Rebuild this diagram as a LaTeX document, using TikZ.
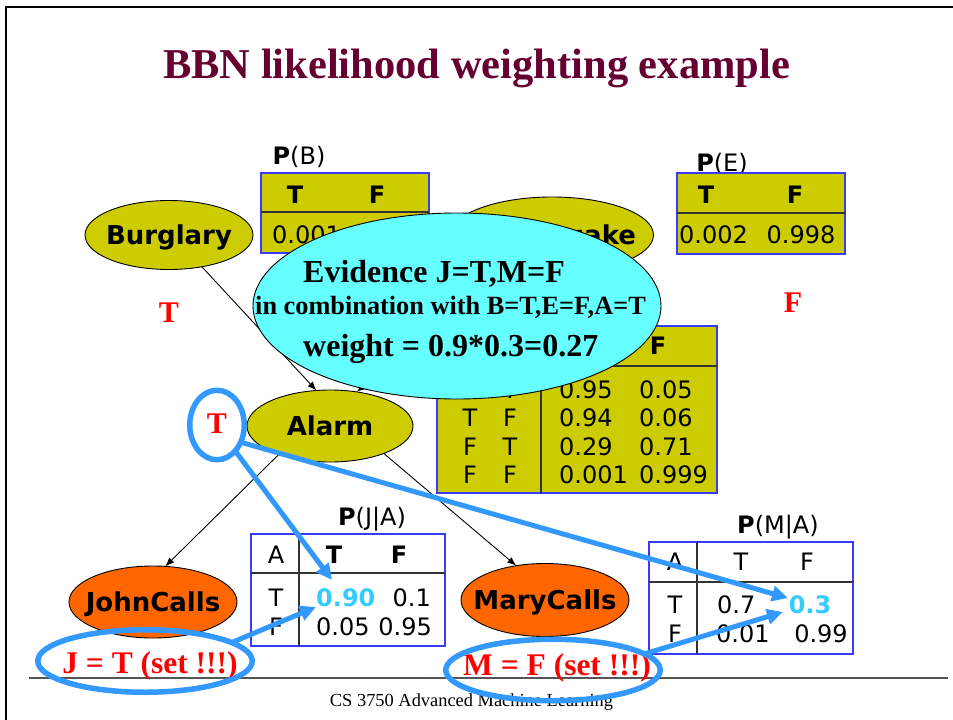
\documentclass[tikz,border=0pt]{standalone}
\usepackage{fontspec}
\setmainfont{Liberation Serif}
\setsansfont{DejaVu Sans}
\usetikzlibrary{shapes.geometric,arrows.meta}

\definecolor{cptfill}{HTML}{CCCC00}
\definecolor{callfill}{HTML}{FF6600}
\definecolor{evfill}{HTML}{66FFFF}
\definecolor{ringblue}{HTML}{3399FF}
\definecolor{hicyan}{HTML}{33CCFF}
\definecolor{tableblue}{HTML}{3A3AFF}
\definecolor{titlecol}{HTML}{660033}
\definecolor{rulegray}{HTML}{333333}
\definecolor{footgray}{HTML}{555555}
\definecolor{evred}{HTML}{FF0000}

\tikzset{
  bayes/.style={ellipse, draw=black, line width=0.9pt, inner sep=0pt, outer sep=0pt,
    text height=19pt, text depth=0pt,
    font=\sffamily\bfseries\fontsize{26}{30}\selectfont},
  tabframe/.style={draw=tableblue, line width=1.4pt},
  tabrule/.style={draw=rulegray, line width=1.1pt},
  cell/.style={inner sep=0pt, text height=17.5pt, text depth=0pt,
    font=\sffamily\fontsize{24}{28}\selectfont},
  cellb/.style={cell, font=\sffamily\bfseries\fontsize{24}{28}\selectfont},
  hival/.style={cellb, text=hicyan},
  redval/.style={inner sep=0pt, text height=20pt, text depth=0pt, text=evred,
    font=\bfseries\fontsize{30}{34}\selectfont},
  settext/.style={inner sep=0pt, text height=21pt, text depth=0pt, text=evred,
    font=\bfseries\fontsize{31.5}{36}\selectfont},
  evline/.style={inner sep=0pt, anchor=west, text depth=0pt},
  ring/.style={ellipse, draw=ringblue, line width=5.5pt, inner sep=0pt, outer sep=0pt},
  causal/.style={draw=black, line width=0.9pt, -{Latex[length=9pt,width=7pt]}},
  hilite/.style={draw=ringblue, line width=5pt, -{Triangle[length=16pt,width=15pt]}}
}

\begin{document}
\begin{tikzpicture}[x=1pt,y=-1pt]
\useasboundingbox (0,0) rectangle (953,720);

% slide frame
\draw[line width=2.8pt] (6,720) -- (6,7) -- (953,7);

% title
\node[inner sep=0pt, text height=28pt, text depth=0pt, text=titlecol,
      font=\bfseries\fontsize{42.5}{48}\selectfont] (title) at (476.5,64)
      {BBN likelihood weighting example};

% root nodes
\node[bayes, fill=cptfill, minimum width=168pt, minimum height=69pt] (burg) at (169,235) {\makebox[0pt]{Burglary}};
\node[bayes, fill=cptfill, minimum width=203pt, minimum height=76pt] (eq) at (552,235) {\makebox[0pt]{Earthquake}};

% P(B)
\node[cell] (pblab) at (299,156) {\textbf{P}(B)};
\draw[tabframe, fill=cptfill] (261,173) rectangle (429,253);
\draw[tabrule] (261,212) -- (429,212);
\node[cellb] (pbt) at (295,195) {T};
\node[cellb] (pbf) at (377,195) {F};
\node[cell, anchor=west] (pbv) at (272,235) {0.001};

% P(E)
\node[cell] (pelab) at (722,163) {\textbf{P}(E)};
\draw[tabframe, fill=cptfill] (677,173) rectangle (845,254);
\draw[tabrule] (677,213) -- (845,213);
\node[cellb] (pet) at (706,195) {T};
\node[cellb] (pef) at (795,195) {F};
\node[cell] (pev1) at (713.5,235) {0.002};
\node[cell] (pev2) at (801,235) {0.998};

% P(A|B,E)
\draw[tabframe, fill=cptfill] (437,326) rectangle (717,493);
\draw[tabrule] (437,366) -- (717,366);
\draw[tabrule] (541,326) -- (541,493);
\node[cellb] (paf) at (658,346) {F};
\foreach \y/\b/\e/\t/\f [count=\i] in {390/T/T/0.95/0.05, 418/T/F/0.94/0.06,
                                      447/F/T/0.29/0.71, 475/F/F/0.001/0.999}{
  \node[cell] (pab\i) at (470,\y) {\b};
  \node[cell] (pae\i) at (510,\y) {\e};
  \node[cell, anchor=west] (pat\i) at (559,\y) {\t};
  \node[cell, anchor=west] (paf\i) at (639,\y) {\f};
}

% alarm node and its parents' links
\node[bayes, fill=cptfill, minimum width=166pt, minimum height=72pt] (alarm) at (330,426) {\makebox[0pt]{Alarm}};
\draw[causal] (burg.-44) -- (alarm.111);
\draw[causal] (eq.-141) -- (alarm.52);

% evidence callout
\node[ellipse, draw=black, line width=0.9pt, fill=evfill, inner sep=0pt,
      minimum width=408pt, minimum height=186pt] (ev) at (457,306) {};
\node[evline, text height=21pt, font=\bfseries\fontsize{32}{36}\selectfont] (ev1) at (303,272) {Evidence J=T,M=F};
\node[evline, text height=17.5pt, font=\bfseries\fontsize{26.3}{30}\selectfont] (ev2) at (255,306) {in combination with B=T,E=F,A=T};
\node[evline, text height=21pt, font=\bfseries\fontsize{32}{36}\selectfont] (ev3) at (303,346) {weight = 0.9*0.3=0.27};

% sampled values
\node[redval] (bval) at (169,312) {T};
\node[redval] (eval) at (793,302.5) {F};
\node[redval] (aval) at (217,423) {T};

% children
\node[bayes, fill=callfill, minimum width=168pt, minimum height=72pt] (john) at (153,602) {\makebox[0pt]{JohnCalls}};
\node[bayes, fill=callfill, minimum width=168pt, minimum height=73pt] (mary) at (545,600) {\makebox[0pt]{MaryCalls}};
\draw[causal] (alarm.-151) -- (john.71);
\draw[causal] (alarm.-27) -- (mary.130);

% P(J|A)
\node[cell] (pjlab) at (372,517) {\textbf{P}(J|A)};
\draw[tabframe] (251,534) rectangle (445,646);
\draw[tabrule] (251,573) -- (445,573);
\draw[tabrule] (299,534) -- (299,646);
\node[cell] (pjha) at (276,555) {A};
\node[cellb] (pjht) at (334,555) {T};
\node[cellb] (pjhf) at (399,555) {F};
\node[cell] (pjr1) at (276,598) {T};
\node[hival, anchor=west] (pjtt) at (316,598) {0.90};
\node[cell, anchor=east] (pjtf) at (431,598) {0.1};
\node[cell] (pjr2) at (276,627) {F};
\node[cell, anchor=west] (pjft) at (316,627) {0.05};
\node[cell, anchor=east] (pjff) at (432,627) {0.95};

% P(M|A)
\node[cell] (pmlab) at (778,525) {\textbf{P}(M|A)};
\draw[tabframe] (649,542) rectangle (853,654);
\draw[tabrule] (649,582) -- (853,582);
\draw[tabrule] (697,542) -- (697,654);
\node[cell] (pmha) at (675,562) {A};
\node[cell] (pmht) at (741,562) {T};
\node[cell] (pmhf) at (807,562) {F};
\node[cell] (pmr1) at (675,605) {T};
\node[cell, anchor=west] (pmtt) at (717,605) {0.7};
\node[hival] (pmtf) at (810,605) {0.3};
\node[cell] (pmr2) at (675,634) {F};
\node[cell, anchor=west] (pmft) at (716,634) {0.01};
\node[cell] (pmff) at (821,634) {0.99};

% footer
\draw[draw=footgray, line width=1.6pt] (29,678) -- (948,678);
\node[inner sep=0pt, text height=12pt, text depth=0pt,
      font=\fontsize{18.4}{22}\selectfont] (foot) at (471.5,700) {CS 3750 Advanced Machine Learning};

% evidence settings
\node[settext] (jset) at (150,663) {J = T (set !!!)};
\node[settext] (mset) at (557,665) {M = F (set !!!)};

% highlight rings
\node[ring, minimum width=54.5pt, minimum height=69.5pt] (tring) at (217,425) {};
\node[ring, minimum width=214.5pt, minimum height=62.5pt] (jring) at (145,661) {};
\node[ring, minimum width=214.5pt, minimum height=61.5pt] (mring) at (553,670) {};

% highlight arrows into the CPT entries
\coordinate (tipjt) at (332,580);
\coordinate (tipmt) at (788,598);
\coordinate (tipjf) at (316,607);
\coordinate (tipmf) at (783,612);
\draw[hilite] (tring.-55) -- (tipjt);
\draw[hilite] (tring.-36) -- (tipmt);
\draw[hilite] (jring.12) -- (tipjf);
\draw[hilite] (mring.10) -- (tipmf);
\end{tikzpicture}
\end{document}
